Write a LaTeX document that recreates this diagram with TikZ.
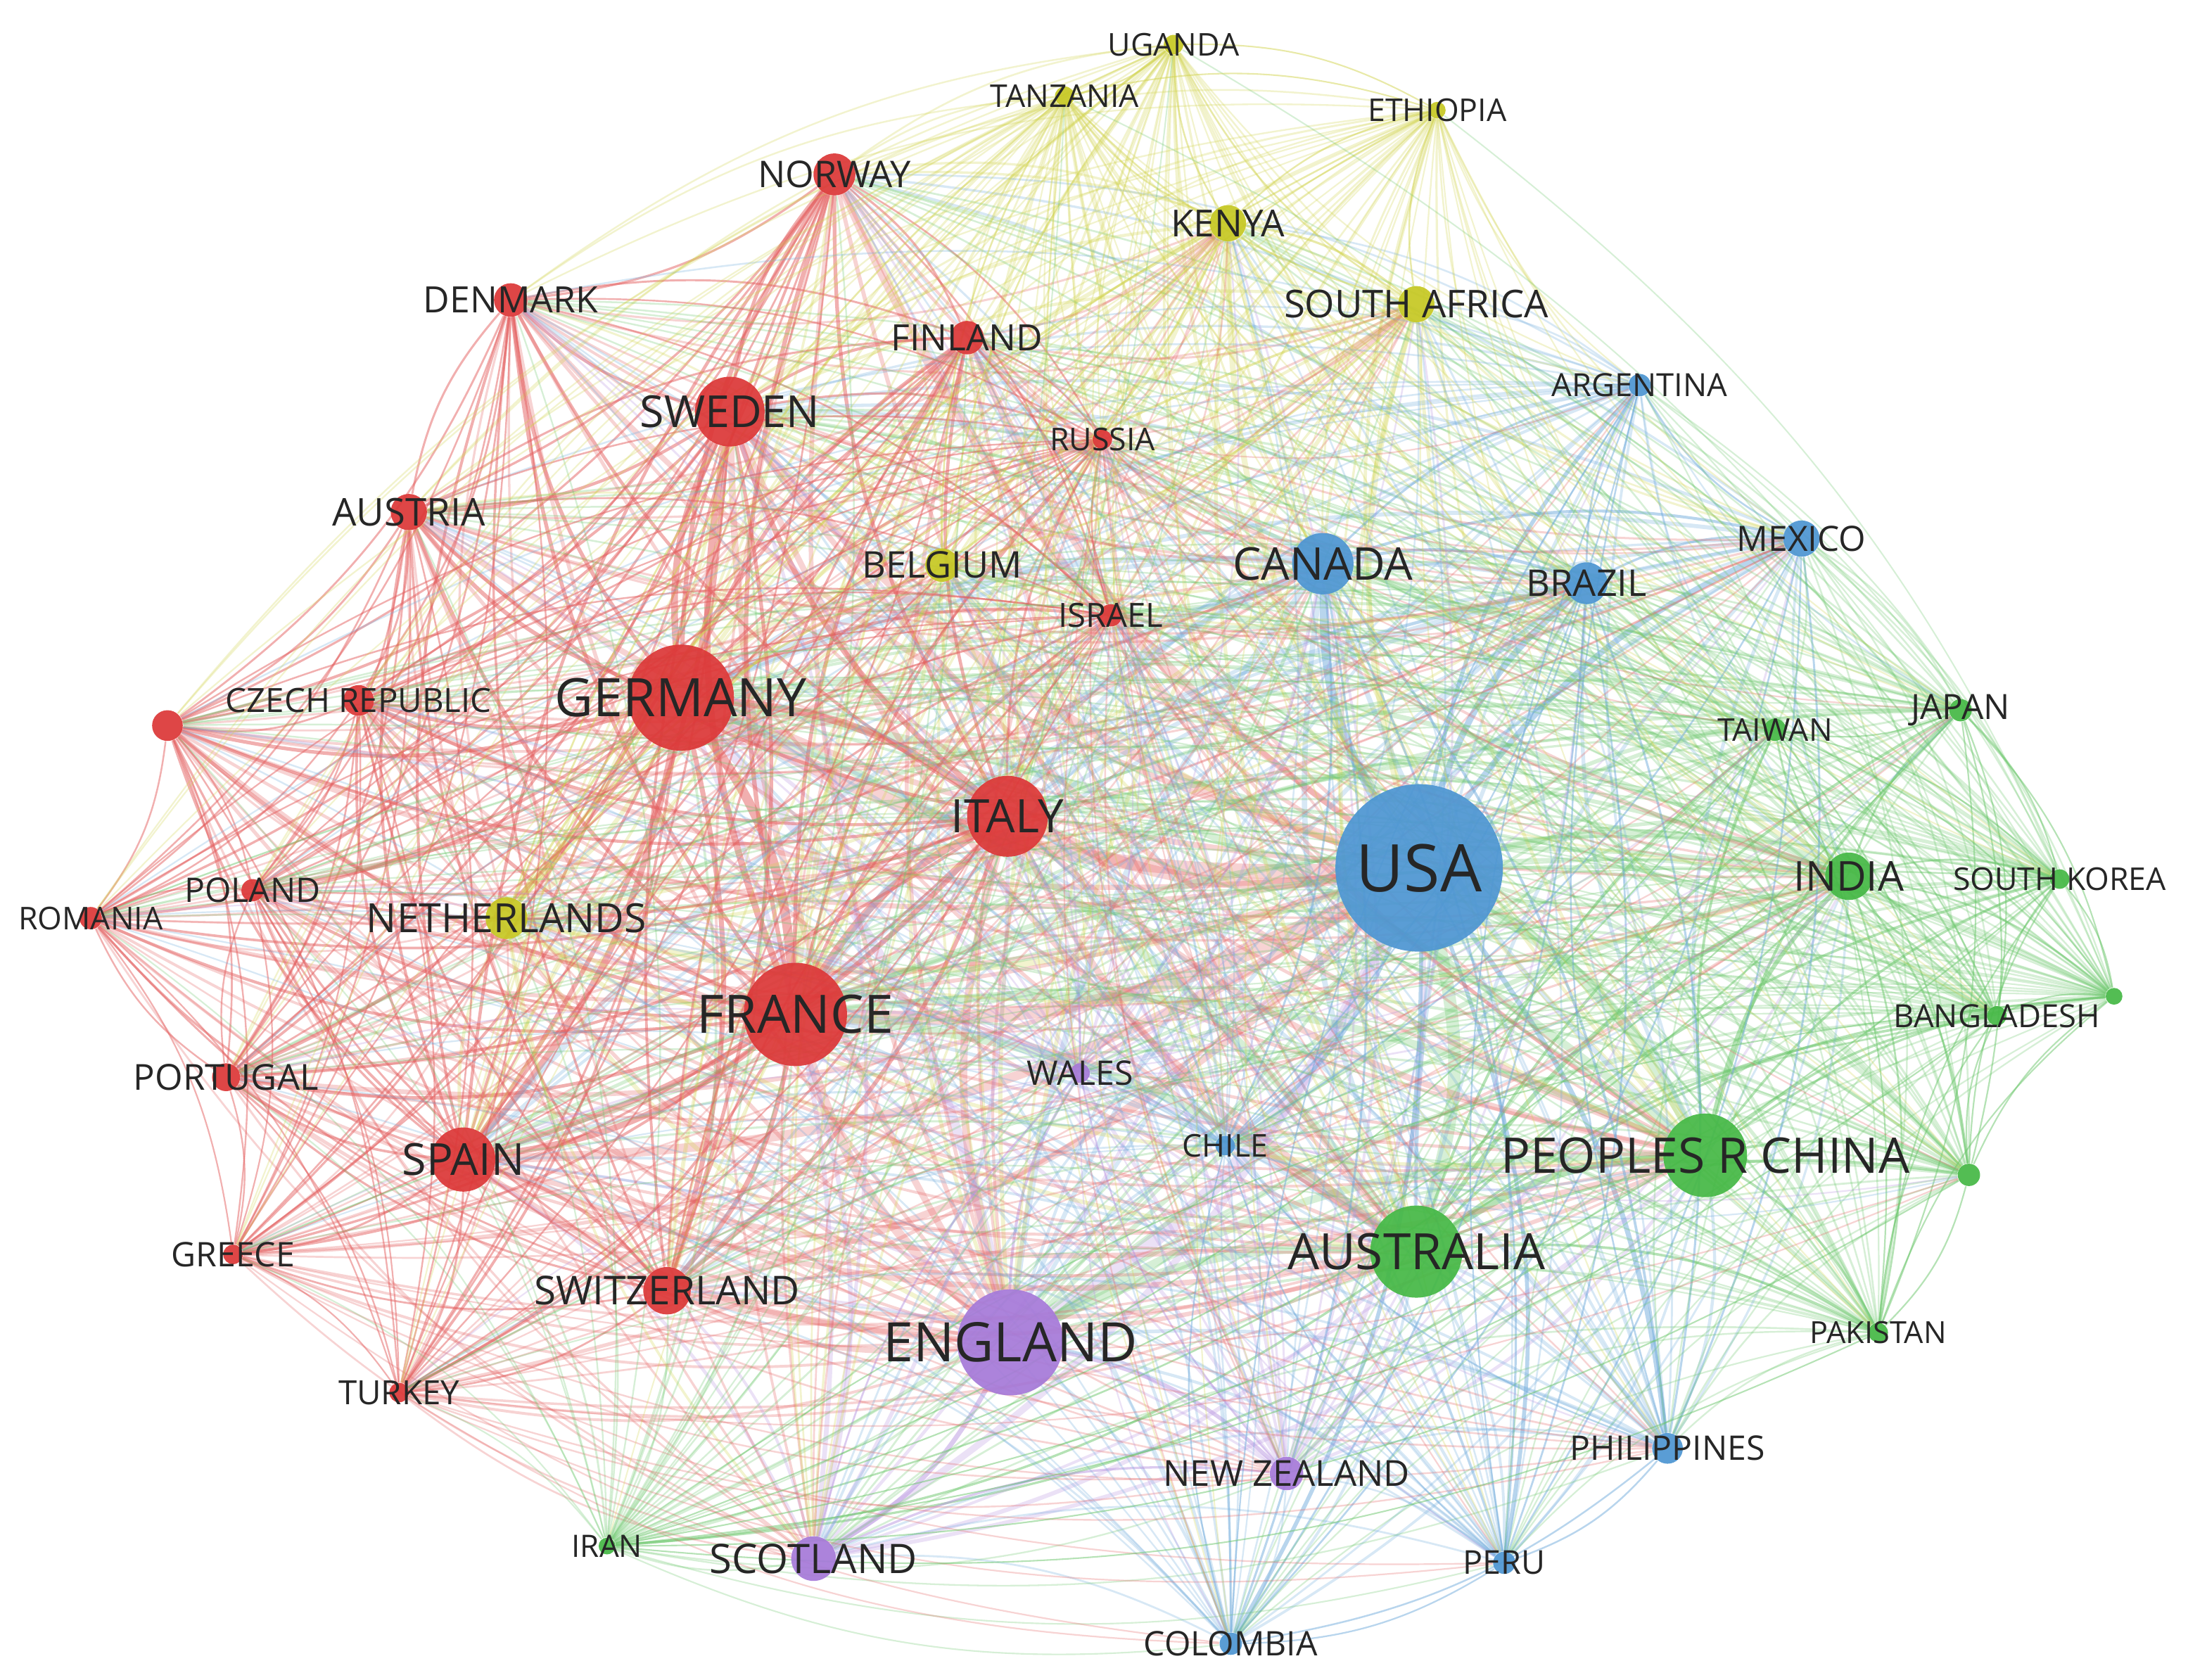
\documentclass[tikz,border=0pt]{standalone}
\usepackage{fontspec}
\setmainfont{Open Sans}
\usepackage{xcolor}
\usepackage{tikz}

\definecolor{clred}{RGB}{220,56,56}
\definecolor{clblue}{RGB}{78,150,210}
\definecolor{clgreen}{RGB}{70,184,70}
\definecolor{clyellow}{RGB}{198,200,36}
\definecolor{clpurple}{RGB}{166,122,216}

\pgfdeclarelayer{links}
\pgfsetlayers{links,main}

\tikzset{
  country/.style={circle, inner sep=0pt, fill=#1, fill opacity=0.93},
  countrylabel/.style={inner sep=0pt, text=black!85},
  link/.style={draw=#1!80!white, line cap=round},
}

% name/x/y/radius/colour/fontsize/label
\def\countries{usa/1017/622/60/clblue/13.4/USA,
germany/488/500/38/clred/10.8/GERMANY,
england/724/962/38/clpurple/11.1/ENGLAND,
france/570/727/37/clred/10.8/FRANCE,
australia/1015/897/33/clgreen/10.2/AUSTRALIA,
china/1222/828/30/clgreen/10/PEOPLES R CHINA,
italy/722/585/29/clred/9.4/ITALY,
sweden/523/295/25/clred/9/SWEDEN,
spain/332/831/23/clred/9/SPAIN,
canada/948/404/22/clblue/9.2/CANADA,
india/1325/628/17/clgreen/8.4/INDIA,
switzerland/478/925/17/clred/8.1/SWITZERLAND,
scotland/583/1117/16/clpurple/8.3/SCOTLAND,
norway/598/125/15/clred/7.5/NORWAY,
brazil/1137/418/15/clblue/7.5/BRAZIL,
netherlands/363/658/15/clyellow/8.2/NETHERLANDS,
mexico/1291/386/13/clblue/7.1/MEXICO,
kenya/880/160/13/clyellow/7.6/KENYA,
southafrica/1015/218/13/clyellow/7.8/SOUTH AFRICA,
austria/293/367/13/clred/7.8/AUSTRIA,
denmark/366/215/12/clred/7.4/DENMARK,
finland/693/242/12/clred/7.4/FINLAND,
belgium/675/405/12/clyellow/7.5/BELGIUM,
newzealand/922/1056/12/clpurple/7.3/NEW ZEALAND,
philippines/1195/1038/11/clblue/6.9/PHILIPPINES,
czech/257/502/11/clred/6.8/CZECH REPUBLIC,
redextra/120/520/11/clred/6/,
portugal/162/772/10/clred/7.3/PORTUGAL,
romania/65/658/8/clred/6.4/ROMANIA,
poland/181/638/8/clred/6.9/POLAND,
israel/796/441/8/clred/6.8/ISRAEL,
peru/1078/1120/8/clblue/6.7/PERU,
colombia/882/1178/8/clblue/6.9/COLOMBIA,
japan/1405/509/8/clgreen/7.1/JAPAN,
taiwan/1272/523/8/clgreen/6.4/TAIWAN,
argentina/1175/276/8/clblue/6.5/ARGENTINA,
greenextra/1411/842/8/clgreen/6/,
greece/167/899/7/clred/6.9/GREECE,
turkey/286/998/7/clred/6.8/TURKEY,
russia/790/315/7/clred/6.4/RUSSIA,
wales/774/769/7/clpurple/6.9/WALES,
chile/878/821/7/clblue/6.4/CHILE,
pakistan/1346/955/7/clgreen/6.2/PAKISTAN,
bangladesh/1431/728/7/clgreen/6.5/BANGLADESH,
southkorea/1476/630/7/clgreen/6.4/SOUTH KOREA,
uganda/841/32/7/clyellow/6.4/UGANDA,
tanzania/763/69/7/clyellow/6.4/TANZANIA,
iran/435/1108/6/clgreen/6.3/IRAN,
ethiopia/1030/79/6/clyellow/6.4/ETHIOPIA,
greenextra2/1515/714/6/clgreen/6/}

\begin{document}
\begin{tikzpicture}[x=0.01cm, y=-0.01cm]
        \useasboundingbox (0,0) rectangle (1568,1204);
        %NODES
        \foreach \a/\xa/\ya/\ra/\ca/\fa/\la in \countries
            \node[country=\ca, minimum size=2*\ra*0.01cm] (\a) at (\xa,\ya) {};
        %LINKS
        \begin{pgfonlayer}{links}
        \foreach [count=\i] \a/\xa/\ya/\ra/\ca/\fa/\la in \countries {
            \foreach [count=\j] \b/\xb/\yb/\rb/\cb/\fb/\lb in \countries {
                \ifnum\j>\i
                    \pgfmathsetmacro\lw{0.25+\ra*\rb/850}
                    \ifx\ca\cb
                        \draw[link=\cb, line width=\lw pt, opacity=0.5] (\a) to[bend left=15] (\b);
                    \else
                        \draw[link=\cb, line width=\lw pt, opacity=0.28] (\a) to[bend left=15] (\b);
                    \fi
                \fi
            }
        }
        \end{pgfonlayer}
        %LABELS
        \foreach \a/\xa/\ya/\ra/\ca/\fa/\la in \countries
            \node[countrylabel, font=\fontsize{\fa}{\fa}\selectfont] (\a-t) at (\a) {\la};
\end{tikzpicture}
\end{document}
